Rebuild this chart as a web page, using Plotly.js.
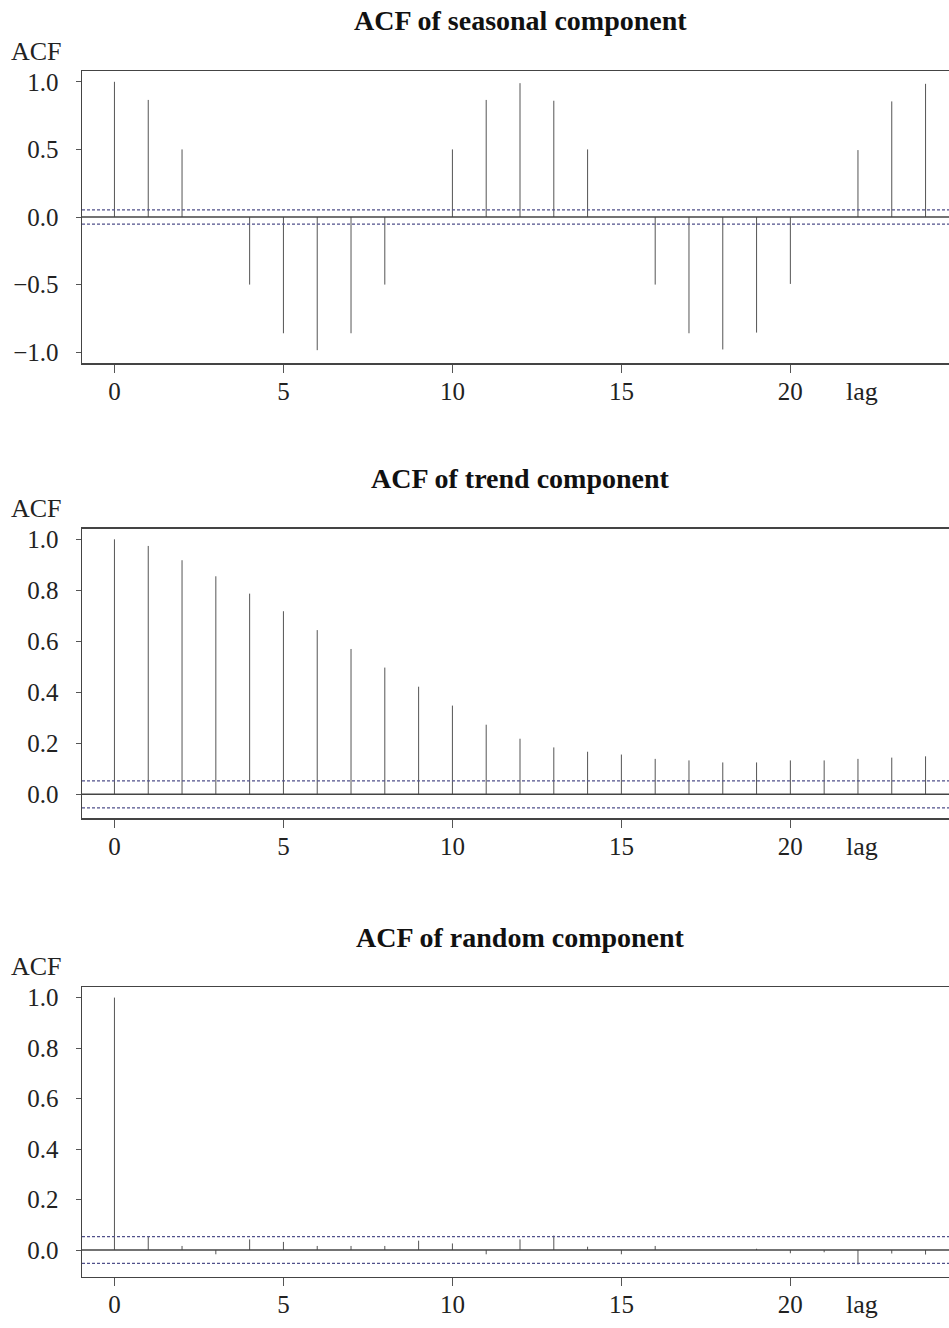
<!DOCTYPE html>
<html><head><meta charset="utf-8">
<script src="https://cdn.plot.ly/plotly-3.0.1.min.js"></script>
<style>
html,body{margin:0;padding:0;overflow:hidden;background:#fff;width:949px;height:1328px}
#chart{width:970px;height:1328px}
</style>
</head><body><div id="chart"></div>
<script>
// ---- data ----
const lags = [0,1,2,3,4,5,6,7,8,9,10,11,12,13,14,15,16,17,18,19,20,21,22,23,24];
const seasonalACF = [1.0,0.866,0.5,0.0,-0.5,-0.86,-0.985,-0.86,-0.5,0.0,0.5,0.866,0.99,0.86,0.5,0.0,-0.5,-0.86,-0.98,-0.855,-0.495,0.0,0.495,0.855,0.985];
const trendACF = [1.0,0.974,0.918,0.855,0.787,0.718,0.644,0.570,0.497,0.422,0.348,0.273,0.218,0.184,0.167,0.156,0.139,0.133,0.125,0.125,0.133,0.133,0.139,0.144,0.149];
const randomACF = [1.0,0.053,0.016,-0.017,0.042,0.032,0.016,0.016,0.016,0.037,0.026,-0.017,0.042,0.057,0.013,-0.017,0.016,0.0,0.0,0.005,-0.013,-0.009,-0.057,-0.014,-0.018];
const ciBound = 0.053;
const panelTitles = ['ACF of seasonal component','ACF of trend component','ACF of random component'];
const yLabel = 'ACF';
const xLabel = 'lag';
const xTickVals = [0,5,10,15,20];
const seasonalYTickVals = [-1,-0.5,0,0.5,1];
const seasonalYTickText = ['\u22121.0','\u22120.5','0.0','0.5','1.0'];
const unitYTickVals = [0,0.2,0.4,0.6,0.8,1];
const unitYTickText = ['0.0','0.2','0.4','0.6','0.8','1.0'];

// ---- layout geometry (pixels) ----
const W = 970, H = 1328;
const plotLeft = 82, plotRight = 958;
const panelsPx = [[71,363],[528.6,818.3],[987,1276.5]];
const yRanges = [[-1.08,1.08],[-0.094,1.042],[-0.105,1.042]];
const xRange = [-0.96,24.96];
const FONT = 'Liberation Serif, Times New Roman, serif';
const series = [seasonalACF, trendACF, randomACF];
const yTicks = [[seasonalYTickVals,seasonalYTickText],[unitYTickVals,unitYTickText],[unitYTickVals,unitYTickText]];

const py = p => 1 - p / H;
const px = p => p / W;

const traces = [];
const shapes = [];
const annotations = [];
const layout = {
  width: W, height: H,
  margin: {l:0, r:0, t:0, b:0},
  paper_bgcolor: '#fff', plot_bgcolor: '#fff',
  showlegend: false,
  font: {family: FONT, color: '#222'},
  shapes: shapes, annotations: annotations
};

series.forEach((vals, i) => {
  const n = i + 1;
  const xa = n === 1 ? 'x' : 'x' + n;
  const ya = n === 1 ? 'y' : 'y' + n;
  const sx = [], sy = [];
  lags.forEach((l, k) => { sx.push(l, l, null); sy.push(0, vals[k], null); });
  traces.push({
    type: 'scatter', mode: 'lines', x: sx, y: sy, xaxis: xa, yaxis: ya,
    line: {color: '#555', width: 1}, hoverinfo: 'skip', connectgaps: false
  });
  const [top, bot] = panelsPx[i];
  layout['xaxis' + (n === 1 ? '' : n)] = {
    domain: [px(plotLeft), px(plotRight)], range: xRange, anchor: ya,
    tickmode: 'array', tickvals: xTickVals, ticktext: xTickVals.map(String),
    ticks: 'outside', ticklen: 8, tickwidth: 1, tickcolor: '#555',
    showline: true, mirror: true, linecolor: '#444', linewidth: 1.5,
    showgrid: false, zeroline: false, ticklabelstandoff: -3,
    tickfont: {family: FONT, size: 25, color: '#222'}
  };
  layout['yaxis' + (n === 1 ? '' : n)] = {
    domain: [py(bot), py(top)], range: yRanges[i], anchor: xa,
    tickmode: 'array', tickvals: yTicks[i][0], ticktext: yTicks[i][1],
    ticks: 'outside', ticklen: 5, tickwidth: 1, tickcolor: '#555',
    showline: true, mirror: true, linecolor: '#444', linewidth: 1.5,
    showgrid: false, zeroline: false, ticklabelstandoff: 12,
    tickfont: {family: FONT, size: 25, color: '#222'}
  };
  shapes.push({type:'line', xref: xa + ' domain', yref: ya, x0:0, x1:1, y0:0, y1:0,
    line:{color:'#444', width:1.5}});
  [ciBound, -ciBound].forEach(c => shapes.push({type:'line', xref: xa + ' domain', yref: ya,
    x0:0, x1:1, y0:c, y1:c, line:{color:'#50508a', width:1.2, dash:'3px,2px'}}));
  annotations.push({text: '<b>' + panelTitles[i] + '</b>', xref:'paper', yref:'paper',
    x: px((plotLeft + plotRight) / 2), y: py(top - 50), xanchor:'center', yanchor:'middle',
    showarrow:false, font:{family: FONT, size: 28, color:'#111'}});
  annotations.push({text: yLabel, xref:'paper', yref:'paper', x: px(9), y: py(top - 20),
    xanchor:'left', yanchor:'middle', showarrow:false, font:{family: FONT, size: 26, color:'#222'}});
  annotations.push({text: xLabel, xref:'paper', yref:'paper', x: px(862), y: py(bot + 28),
    xanchor:'center', yanchor:'middle', showarrow:false, font:{family: FONT, size: 26, color:'#222'}});
});

Plotly.newPlot('chart', traces, layout, {displayModeBar: false, staticPlot: true});
</script>
</body></html>
